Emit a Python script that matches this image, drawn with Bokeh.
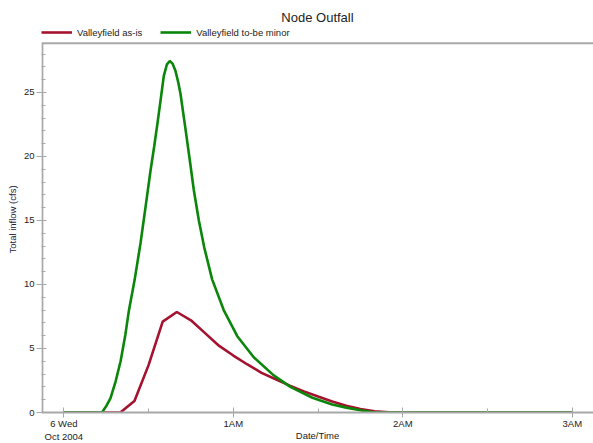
from bokeh.plotting import figure
from bokeh.models import (FixedTicker, Range1d, Legend, LegendItem, Span)
from bokeh.embed import file_html
from bokeh.resources import INLINE

# time in minutes after midnight, 6 Oct 2004
t_minor = [0, 13.5, 15, 16.5, 18.3, 20.1, 21.8, 23, 25.1, 27.2, 28.9, 30.7, 32, 33.1, 34.2, 35.4, 36.5,
           37.5, 38.5, 39.5, 40.5, 41.3, 43.1, 44.6, 46, 47.8, 49.7, 52.5, 56.6, 61.4, 67.3, 74.3, 80.2,
           88, 95, 100, 105, 109, 112, 180]
q_minor = [0, 0, 0.5, 1.1, 2.4, 4.0, 6.1, 7.9, 10.4, 13.3, 16.0, 18.9, 20.8, 22.5, 24.3, 26.3, 27.2,
           27.45, 27.25, 26.7, 25.8, 24.9, 22.1, 19.7, 17.4, 15.0, 12.9, 10.4, 8.0, 5.96, 4.3, 2.9, 2.0,
           1.15, 0.62, 0.38, 0.18, 0.03, 0, 0]

t_asis = [0, 20, 25, 30, 35, 40, 45, 50, 55, 60, 65, 70, 75, 80, 85, 90, 95, 100, 105, 110, 115, 120, 180]
q_asis = [0, 0, 0.9, 3.7, 7.1, 7.85, 7.2, 6.2, 5.2, 4.45, 3.75, 3.1, 2.6, 2.1, 1.65, 1.25, 0.86,
          0.52, 0.28, 0.1, 0.02, 0, 0]

x_ticks = [0, 60, 120, 180]
x_tick_labels = ["6 Wed\nOct 2004", "1AM", "2AM", "3AM"]
y_ticks = [0, 5, 10, 15, 20, 25]
y_max = 28.85      # top of the value axis

FONT = "Liberation Sans"
GRAY = "#a8a8a8"
RED = "#a5122f"
GREEN = "#0a860a"

X0, X1 = -7.9, 187.5
p = figure(width=593, height=443, output_backend="svg", toolbar_location=None,
           x_range=Range1d(X0, X1), y_range=Range1d(0, 30.15),
           min_border_left=41, min_border_right=0, min_border_bottom=29, min_border_top=26)
p.title.text = "Node Outfall"
p.title.align = "center"
p.title.text_font = FONT
p.title.text_font_size = "13px"
p.title.text_font_style = "normal"
p.title.text_color = "#222222"
p.title.standoff = 3

p.grid.visible = False
p.outline_line_color = None
p.background_fill_color = "white"
p.border_fill_color = "white"

# frame lines (top border and value-axis line limited to the axis extent)
p.add_layout(Span(location=y_max, dimension="width", line_color=GRAY, line_width=2))
p.segment(x0=[X0 + 0.3], y0=[0], x1=[X0 + 0.3], y1=[y_max], line_color=GRAY, line_width=2)

r1 = p.line(t_asis, q_asis, line_color=RED, line_width=2.6)
r2 = p.line(t_minor, q_minor, line_color=GREEN, line_width=2.6)

legend = Legend(items=[LegendItem(label="Valleyfield as-is", renderers=[r1]),
                       LegendItem(label="Valleyfield to-be minor", renderers=[r2])],
                orientation="horizontal", location="top_left",
                label_text_font=FONT, label_text_font_size="9.5px", label_text_color="#222222",
                glyph_width=31, glyph_height=12, label_height=12, label_standoff=5, spacing=18,
                border_line_color=None, background_fill_alpha=0)
legend.padding = 0
legend.margin = 0
p.add_layout(legend, "center")

xa = p.below[0]
ya = p.left[0]

xa.ticker = FixedTicker(ticks=x_ticks, minor_ticks=[30, 90, 150])
xa.major_label_overrides = {t: s for t, s in zip(x_ticks, x_tick_labels)}
xa.axis_label = "Date/Time"
xa.axis_label_standoff = -15
ya.ticker = FixedTicker(ticks=y_ticks, minor_ticks=list(range(0, 29)))
ya.axis_label = "Total inflow (cfs)"
ya.axis_label_standoff = 3

for ax in (xa, ya):
    ax.axis_line_color = GRAY
    ax.axis_line_width = 2
    ax.major_tick_line_color = GRAY
    ax.minor_tick_line_color = GRAY
    ax.major_tick_in = 5
    ax.major_tick_out = 5
    ax.minor_tick_in = 4
    ax.minor_tick_out = 0
    ax.major_label_text_font = FONT
    ax.major_label_text_font_size = "9.5px"
    ax.major_label_text_color = "#222222"
    ax.major_label_standoff = 0
    ax.axis_label_text_font = FONT
    ax.axis_label_text_font_size = "9.5px"
    ax.axis_label_text_font_style = "normal"
    ax.axis_label_text_color = "#222222"

ya.major_label_standoff = 2
ya.axis_line_color = None
ya.axis_label_text_color = "#1a1a40"

open("out.html", "w").write(file_html(p, INLINE))
